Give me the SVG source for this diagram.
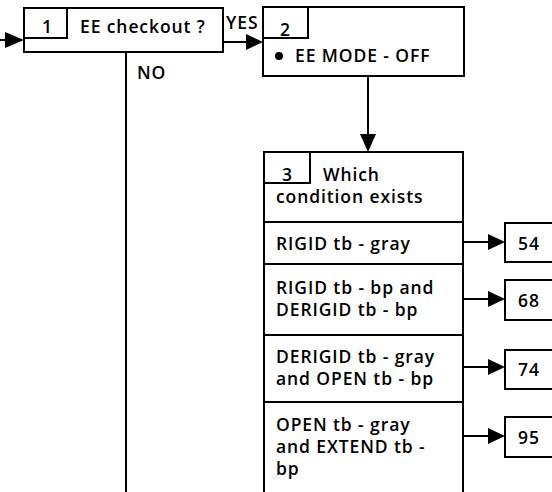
<svg xmlns="http://www.w3.org/2000/svg" width="552" height="492" viewBox="0 0 552 492">
<defs>
<style>
.b{fill:#fff;stroke:#000;stroke-width:2}
.l{fill:none;stroke:#000;stroke-width:2}
.h{fill:#000}
text{font-family:"Open Sans","Noto Sans",sans-serif;font-size:17.5px;font-weight:600;fill:#000;letter-spacing:0.9px}
</style>
</defs>
<rect width="552" height="492" fill="#fff"/>
<g id="connectors">
<line class="l" x1="0" y1="40" x2="10" y2="40"/>
<path class="h" d="M5,32 L24,40 L5,48 Z"/>
<line class="l" x1="223" y1="42" x2="248" y2="42"/>
<path class="h" d="M246,34 L263,42 L246,50 Z"/>
<line class="l" x1="126" y1="52" x2="126" y2="492"/>
<line class="l" x1="368" y1="76" x2="368" y2="136"/>
<path class="h" d="M360,134 L368,152 L376,134 Z"/>
<line class="l" x1="463" y1="242" x2="490" y2="242"/>
<path class="h" d="M488,234 L505,242 L488,250 Z"/>
<line class="l" x1="463" y1="299" x2="490" y2="299"/>
<path class="h" d="M488,291 L505,299 L488,307 Z"/>
<line class="l" x1="463" y1="367" x2="490" y2="367"/>
<path class="h" d="M488,359 L505,367 L488,375 Z"/>
<line class="l" x1="463" y1="436" x2="490" y2="436"/>
<path class="h" d="M488,428 L505,436 L488,444 Z"/>
<text x="226" y="29">YES</text>
<text x="137" y="79">NO</text>
</g>
<g id="node1">
<rect class="b" x="24" y="8" width="199" height="44"/>
<rect class="l" x="24" y="8" width="43" height="30"/>
<text x="42" y="33">1</text>
<text x="80" y="33">EE checkout ?</text>
</g>
<g id="node2">
<rect class="b" x="263" y="7" width="201" height="69"/>
<rect class="l" x="263" y="7" width="45" height="31"/>
<text x="280" y="36">2</text>
<circle cx="279" cy="56" r="4" fill="#000"/>
<text x="295" y="62">EE MODE - OFF</text>
</g>
<g id="node3">
<path class="l" d="M264,493 L264,152 L463,152 L463,493"/>
<rect class="l" x="264" y="152" width="46" height="31"/>
<text x="282" y="181">3</text>
<text x="323" y="181">Which</text>
<text x="276" y="203">condition exists</text>
<line class="l" x1="264" y1="222" x2="463" y2="222"/>
<text x="276" y="250">RIGID tb - gray</text>
<line class="l" x1="264" y1="264" x2="463" y2="264"/>
<text x="276" y="294">RIGID tb - bp and</text>
<text x="276" y="316">DERIGID tb - bp</text>
<line class="l" x1="264" y1="335" x2="463" y2="335"/>
<text x="276" y="363">DERIGID tb - gray</text>
<text x="276" y="385">and OPEN tb - bp</text>
<line class="l" x1="264" y1="402" x2="463" y2="402"/>
<text x="276" y="431">OPEN tb - gray</text>
<text x="276" y="453">and EXTEND tb -</text>
<text x="276" y="475">bp</text>
</g>
<g id="node54">
<rect class="b" x="505" y="223" width="60" height="39"/>
<text x="518" y="250">54</text>
</g>
<g id="node68">
<rect class="b" x="505" y="280" width="60" height="40"/>
<text x="518" y="307">68</text>
</g>
<g id="node74">
<rect class="b" x="505" y="350" width="60" height="39"/>
<text x="518" y="376">74</text>
</g>
<g id="node95">
<rect class="b" x="505" y="417" width="60" height="40"/>
<text x="518" y="444">95</text>
</g>
</svg>
